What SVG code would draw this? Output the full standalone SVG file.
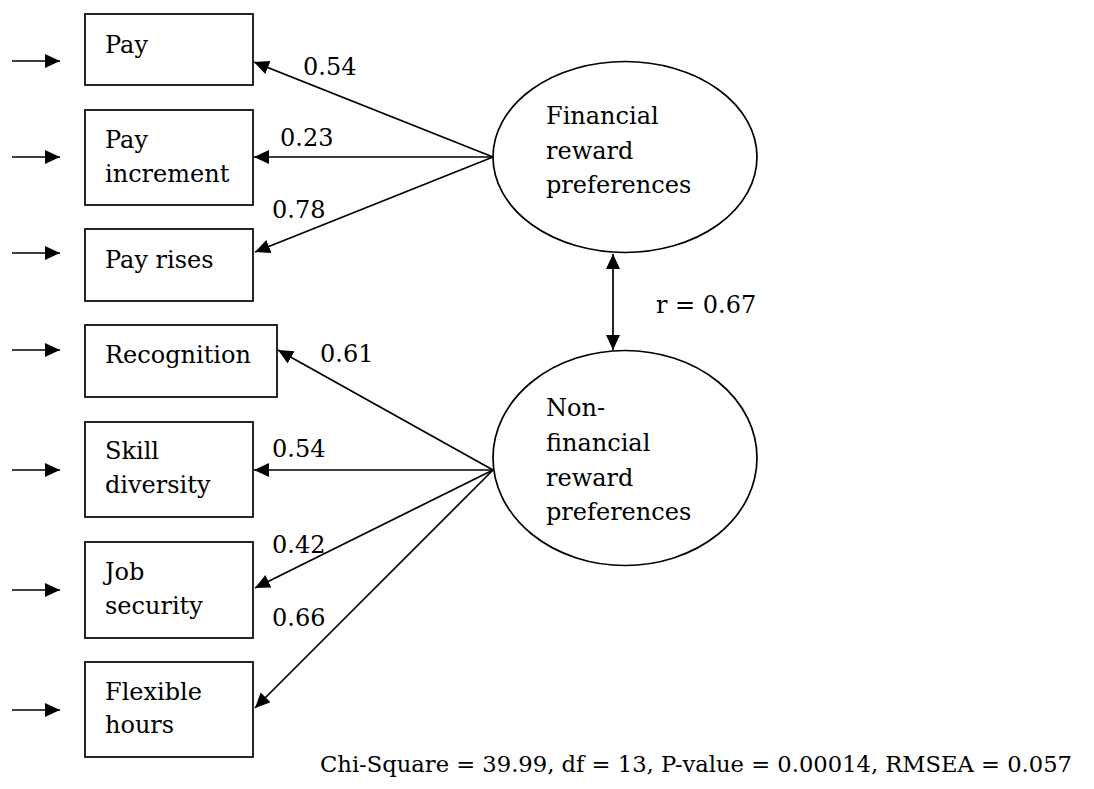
<svg xmlns="http://www.w3.org/2000/svg" width="1094" height="789" viewBox="0 0 1094 789">
<defs>
<marker id="ah" markerUnits="userSpaceOnUse" markerWidth="16" markerHeight="15" refX="15" refY="7" orient="auto-start-reverse"><path d="M0,0 L15,7 L0,14 z" fill="#000"/></marker>
<style>
.box{fill:#fff;stroke:#000;stroke-width:1.7}
.ell{fill:#fff;stroke:#000;stroke-width:1.7}
.c{stroke:#000;stroke-width:1.7;fill:none;marker-end:url(#ah)}
text{font-family:"DejaVu Serif","Liberation Serif",serif;font-size:24px;fill:#000}
</style>
</defs>
<rect width="1094" height="789" fill="#fff"/>
<g id="connectors">
<line class="c" x1="12" y1="61" x2="60" y2="61"/>
<line class="c" x1="12" y1="157" x2="60" y2="157"/>
<line class="c" x1="12" y1="253" x2="60" y2="253"/>
<line class="c" x1="12" y1="350" x2="60" y2="350"/>
<line class="c" x1="12" y1="470" x2="60" y2="470"/>
<line class="c" x1="12" y1="590" x2="60" y2="590"/>
<line class="c" x1="12" y1="710" x2="60" y2="710"/>
<line class="c" x1="493" y1="157" x2="254" y2="62"/>
<line class="c" x1="493" y1="157" x2="254" y2="157"/>
<line class="c" x1="493" y1="157" x2="255" y2="252"/>
<line class="c" x1="493" y1="470" x2="278" y2="350"/>
<line class="c" x1="493" y1="470" x2="254" y2="470"/>
<line class="c" x1="493" y1="470" x2="255" y2="588"/>
<line class="c" x1="493" y1="470" x2="255" y2="708"/>
<line class="c" x1="613" y1="254" x2="613" y2="350" marker-start="url(#ah)"/>
<text x="303" y="75">0.54</text>
<text x="280" y="146">0.23</text>
<text x="272" y="218">0.78</text>
<text x="320" y="362">0.61</text>
<text x="272" y="457">0.54</text>
<text x="272" y="553">0.42</text>
<text x="272" y="626">0.66</text>
<text x="656" y="313">r = 0.67</text>
</g>
<g id="pay"><rect class="box" x="85" y="14" width="168" height="71"/><text x="105" y="53">Pay</text></g>
<g id="pay-increment"><rect class="box" x="85" y="110" width="168" height="95"/><text x="105" y="148">Pay</text><text x="105" y="182">increment</text></g>
<g id="pay-rises"><rect class="box" x="85" y="229" width="168" height="72"/><text x="105" y="268">Pay rises</text></g>
<g id="recognition"><rect class="box" x="85" y="325" width="192" height="72"/><text x="105" y="363">Recognition</text></g>
<g id="skill-diversity"><rect class="box" x="85" y="422" width="168" height="95"/><text x="105" y="459">Skill</text><text x="105" y="493">diversity</text></g>
<g id="job-security"><rect class="box" x="85" y="542" width="168" height="96"/><text x="105" y="580">Job</text><text x="105" y="614">security</text></g>
<g id="flexible-hours"><rect class="box" x="85" y="662" width="168" height="95"/><text x="105" y="700">Flexible</text><text x="105" y="733">hours</text></g>
<g id="financial"><ellipse class="ell" cx="625" cy="157" rx="132" ry="95.5"/><text x="546" y="124">Financial</text><text x="546" y="159">reward</text><text x="546" y="193">preferences</text></g>
<g id="non-financial"><ellipse class="ell" cx="625" cy="458" rx="132" ry="107.5"/><text x="546" y="416">Non-</text><text x="546" y="451">financial</text><text x="546" y="486">reward</text><text x="546" y="520">preferences</text></g>
<g id="fit"><text x="320" y="772" style="font-size:22.6px" textLength="752" lengthAdjust="spacingAndGlyphs">Chi-Square = 39.99, df = 13, P-value = 0.00014, RMSEA = 0.057</text></g>
</svg>
